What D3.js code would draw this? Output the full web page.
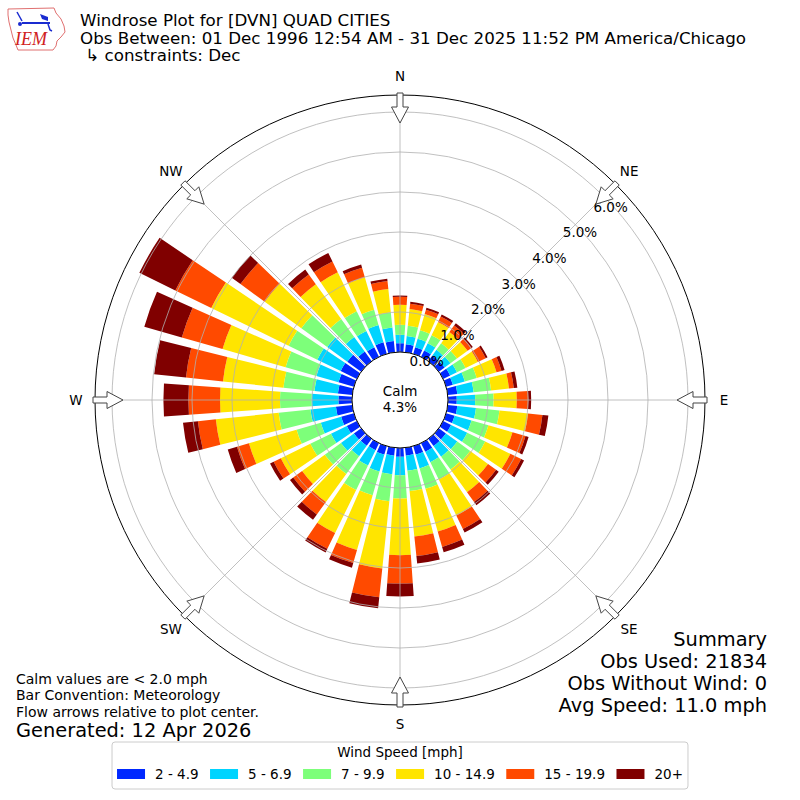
<!DOCTYPE html>
<html>
<head>
<meta charset="utf-8">
<script src="https://cdn.jsdelivr.net/npm/d3@7/dist/d3.min.js"></script>
<style>
body { margin: 0; background: #fff; }
text { font-family: "DejaVu Sans", sans-serif; fill: #000; }
</style>
</head>
<body>
<div id="main"></div>
<script>
const width = 800;
const height = 800;
const cx = 400, cy = 400;

// direction each bar comes from (deg, meteorological)
const directions = d3.range(0, 360, 10);

const speedBins = ['2 - 4.9', '5 - 6.9', '7 - 9.9', '10 - 14.9', '15 - 19.9', '20+'];
const binColors = ['#0028ff', '#00d4ff', '#7dff7a', '#ffe500', '#ff4a00', '#800000'];

// percent of obs per direction, one list per speed bin (0, 10, ... 350 deg)
const pct2to5 = [0.22, 0.20, 0.175, 0.18, 0.175, 0.18, 0.195, 0.175, 0.24, 0.22, 0.24, 0.22,
  0.22, 0.22, 0.225, 0.24, 0.22, 0.20, 0.22, 0.20, 0.22, 0.195, 0.215, 0.225,
  0.28, 0.33, 0.41, 0.34, 0.36, 0.40, 0.45, 0.43, 0.30, 0.27, 0.30, 0.28];
const pct5to7 = [0.21, 0.21, 0.22, 0.20, 0.175, 0.18, 0.19, 0.31, 0.41, 0.46, 0.47, 0.44,
  0.45, 0.35, 0.325, 0.29, 0.36, 0.38, 0.46, 0.465, 0.44, 0.43, 0.325, 0.40,
  0.44, 0.53, 0.64, 0.67, 0.59, 0.575, 0.65, 0.62, 0.45, 0.45, 0.45, 0.34];
const pct7to10 = [0.25, 0.255, 0.22, 0.22, 0.20, 0.20, 0.24, 0.31, 0.44, 0.46, 0.59, 0.44,
  0.50, 0.40, 0.40, 0.48, 0.53, 0.51, 0.58, 0.68, 0.62, 0.675, 0.545, 0.50,
  0.575, 0.63, 0.80, 0.79, 0.78, 0.80, 0.80, 0.80, 0.55, 0.55, 0.40, 0.38];
const pct10to15 = [0.50, 0.42, 0.42, 0.37, 0.35, 0.33, 0.34, 0.515, 0.45, 0.58, 0.72, 0.625,
  0.70, 0.55, 0.70, 1.00, 1.11, 1.14, 1.42, 1.69, 1.42, 1.20, 0.865, 0.70,
  0.82, 1.24, 1.58, 1.50, 1.52, 1.64, 2.15, 1.13, 1.08, 1.08, 0.84, 0.59];
const pct15to20 = [0.20, 0.135, 0.115, 0.15, 0.20, 0.12, 0.22, 0.13, 0.12, 0.29, 0.36, 0.34,
  0.30, 0.25, 0.30, 0.375, 0.40, 0.49, 0.71, 0.725, 0.34, 0.44, 0.385, 0.275,
  0.20, 0.31, 0.45, 0.79, 0.93, 1.06, 1.00, 0.75, 0.30, 0.30, 0.25, 0.20];
const pct20plus = [0.03, 0.05, 0.05, 0.06, 0.075, 0.04, 0.05, 0.08, 0.09, 0.07, 0.15, 0.08,
  0.08, 0.08, 0.10, 0.10, 0.14, 0.19, 0.32, 0.275, 0.12, 0.10, 0.165, 0.10,
  0.10, 0.24, 0.375, 0.625, 0.80, 0.975, 1.00, 0.27, 0.15, 0.24, 0.085, 0.06];

const ringTicks = [0, 1, 2, 3, 4, 5, 6];
const compass = [
  {label: 'N', deg: 0}, {label: 'NE', deg: 45}, {label: 'E', deg: 90}, {label: 'SE', deg: 135},
  {label: 'S', deg: 180}, {label: 'SW', deg: 225}, {label: 'W', deg: 270}, {label: 'NW', deg: 315}
];

const calmPct = '4.3%';
const titleLines = ['Windrose Plot for [DVN] QUAD CITIES',
  'Obs Between: 01 Dec 1996 12:54 AM - 31 Dec 2025 11:52 PM America/Chicago',
  ' \u21b3 constraints: Dec'];
const noteLines = ['Calm values are < 2.0 mph', 'Bar Convention: Meteorology', 'Flow arrows relative to plot center.'];
const generated = 'Generated: 12 Apr 2026';
const summaryLines = ['Summary', 'Obs Used: 21834', 'Obs Without Wind: 0', 'Avg Speed: 11.0 mph'];

const svg = d3.select('#main')
    .append('svg')
    .attr('width', width)
    .attr('height', height)
    .style('display', 'block');

const rCalm = 48, rOuter = 305, rMax = 6.425;
const r = d3.scaleLinear().domain([0, rMax]).range([rCalm, rOuter]);
const rad = d => d * Math.PI / 180;

const g = svg.append('g').attr('transform', `translate(${cx},${cy})`);

// bars
const series = [pct2to5, pct5to7, pct7to10, pct10to15, pct15to20, pct20plus];
const rows = directions.map((d, i) => series.map(s => s[i]));
const stacked = d3.stack().keys(d3.range(series.length))(rows);

const halfWidth = 4;
const arc = d3.arc()
    .innerRadius(d => r(d.lo))
    .outerRadius(d => r(d.hi))
    .startAngle(d => rad(d.dir - halfWidth))
    .endAngle(d => rad(d.dir + halfWidth));

stacked.forEach((layer, k) => {
  g.append('g')
    .selectAll('path')
    .data(layer.map((d, i) => ({lo: d[0], hi: d[1], dir: directions[i]})))
    .enter()
    .append('path')
    .attr('d', arc)
    .attr('fill', binColors[k]);
});

// grid (drawn over the bars, like the original)
const grid = g.append('g').attr('fill', 'none').attr('stroke', '#b0b0b0').attr('stroke-width', 0.8);
grid.selectAll('circle')
    .data(ringTicks)
    .enter()
    .append('circle')
    .attr('r', d => r(d));
grid.selectAll('line')
    .data(compass)
    .enter()
    .append('line')
    .attr('x1', 0).attr('y1', 0)
    .attr('x2', d => rOuter * Math.sin(rad(d.deg)))
    .attr('y2', d => -rOuter * Math.cos(rad(d.deg)));

g.append('circle')
    .attr('r', rOuter)
    .attr('fill', 'none')
    .attr('stroke', '#000')
    .attr('stroke-width', 1);

// calm circle
g.append('circle')
    .attr('r', rCalm)
    .attr('fill', '#fff')
    .attr('stroke', '#000')
    .attr('stroke-width', 1);
g.append('text')
    .attr('text-anchor', 'middle')
    .attr('y', -4)
    .style('font-size', '13.5px')
    .text('Calm');
g.append('text')
    .attr('text-anchor', 'middle')
    .attr('y', 12)
    .style('font-size', '13.5px')
    .text(calmPct);

// ring labels
const labAng = rad(50);
g.selectAll('.rlab')
    .data(ringTicks)
    .enter()
    .append('text')
    .attr('class', 'rlab')
    .attr('x', d => r(d) * Math.sin(labAng) - 10)
    .attr('y', d => -r(d) * Math.cos(labAng) - 8)
    .attr('text-anchor', 'middle')
    .attr('dy', '0.35em')
    .style('font-size', '13.5px')
    .text(d => d.toFixed(1) + '%');

// flow arrows
const arrowShape = [[307, -3], [293, -3], [293, -8.5], [277, 0], [293, 8.5], [293, 3], [307, 3]];
const toXY = (deg) => (p) => {
  const a = rad(deg);
  return [p[0] * Math.sin(a) + p[1] * Math.cos(a), -p[0] * Math.cos(a) + p[1] * Math.sin(a)];
};
g.selectAll('.arrow')
    .data(compass)
    .enter()
    .append('path')
    .attr('class', 'arrow')
    .attr('d', d => d3.line()(arrowShape.map(toXY(d.deg))) + 'Z')
    .attr('fill', '#fff')
    .attr('stroke', '#444')
    .attr('stroke-width', 1);

g.selectAll('.clab')
    .data(compass)
    .enter()
    .append('text')
    .attr('class', 'clab')
    .attr('x', d => 324 * Math.sin(rad(d.deg)))
    .attr('y', d => -324 * Math.cos(rad(d.deg)))
    .attr('text-anchor', 'middle')
    .attr('dy', '0.35em')
    .style('font-size', '13.5px')
    .text(d => d.label);

// title
svg.selectAll('.title')
    .data(titleLines)
    .enter()
    .append('text')
    .attr('x', 80)
    .attr('y', (d, i) => 26 + i * 17.5)
    .style('font-size', '16.7px')
    .style('white-space', 'pre')
    .text(d => d);

// logo
const logo = svg.append('g');
logo.append('path')
    .attr('d', 'M8,9 L54,8 L56,13 L61,19 L64,26 L65,32 L61,37 L57,41 L56,46 L53,50 L18,50 L16,45 L13,38 L11,30 L9,22 L8,15 Z')
    .attr('fill', 'none')
    .attr('stroke', '#e07070')
    .attr('stroke-width', 1);
logo.append('line').attr('x1', 22).attr('y1', 23).attr('x2', 50).attr('y2', 23)
    .attr('stroke', '#1a2bd0').attr('stroke-width', 2);
logo.append('line').attr('x1', 17).attr('y1', 12).attr('x2', 22).attr('y2', 21)
    .attr('stroke', '#1a2bd0').attr('stroke-width', 1.5);
logo.append('path').attr('d', 'M40,14 L48,17 L48,21 L42,19 Z').attr('fill', '#1a2bd0');
logo.append('path').attr('d', 'M48,24 L50,30 L52,31').attr('fill', 'none')
    .attr('stroke', '#1a2bd0').attr('stroke-width', 1.5);
logo.append('circle').attr('cx', 20).attr('cy', 24).attr('r', 2).attr('fill', '#1a2bd0');
logo.append('text')
    .attr('x', 15)
    .attr('y', 45)
    .style('font-family', '"Liberation Serif", serif')
    .style('font-style', 'italic')
    .style('font-size', '18px')
    .style('fill', '#d02020')
    .text('IEM');

// notes
svg.selectAll('.note')
    .data(noteLines)
    .enter()
    .append('text')
    .attr('x', 16)
    .attr('y', (d, i) => 684 + i * 16.3)
    .style('font-size', '14px')
    .text(d => d);
svg.append('text')
    .attr('x', 16)
    .attr('y', 737)
    .style('font-size', '19.4px')
    .text(generated);

svg.selectAll('.summary')
    .data(summaryLines)
    .enter()
    .append('text')
    .attr('x', 767)
    .attr('y', (d, i) => 646 + i * 22)
    .attr('text-anchor', 'end')
    .style('font-size', '19.4px')
    .text(d => d);

// legend
const legend = svg.append('g');
const box = legend.append('rect')
    .attr('y', 742)
    .attr('height', 47)
    .attr('rx', 3)
    .attr('fill', '#fff')
    .attr('stroke', '#cccccc')
    .attr('stroke-width', 1);
legend.append('text')
    .attr('x', 400)
    .attr('y', 757)
    .attr('text-anchor', 'middle')
    .style('font-size', '13.5px')
    .text('Wind Speed [mph]');

const patchW = 28, pad = 10, gap = 11.5;
const items = legend.selectAll('.item')
    .data(speedBins)
    .enter()
    .append('g')
    .attr('class', 'item');
items.append('rect')
    .attr('width', patchW)
    .attr('height', 10)
    .attr('y', 769)
    .attr('fill', (d, i) => binColors[i]);
items.append('text')
    .attr('x', patchW + pad)
    .attr('y', 779)
    .style('font-size', '13.5px')
    .text(d => d);

const widths = [];
items.select('text').each(function() { widths.push(this.getComputedTextLength()); });
const rowW = d3.sum(widths) + speedBins.length * (patchW + pad) + (speedBins.length - 1) * gap;
let xPos = 400 - rowW / 2;
items.each(function(d, i) {
  d3.select(this).attr('transform', `translate(${xPos},0)`);
  xPos += patchW + pad + widths[i] + gap;
});
box.attr('x', 400 - rowW / 2 - 5).attr('width', rowW + 10);
</script>
</body>
</html>
